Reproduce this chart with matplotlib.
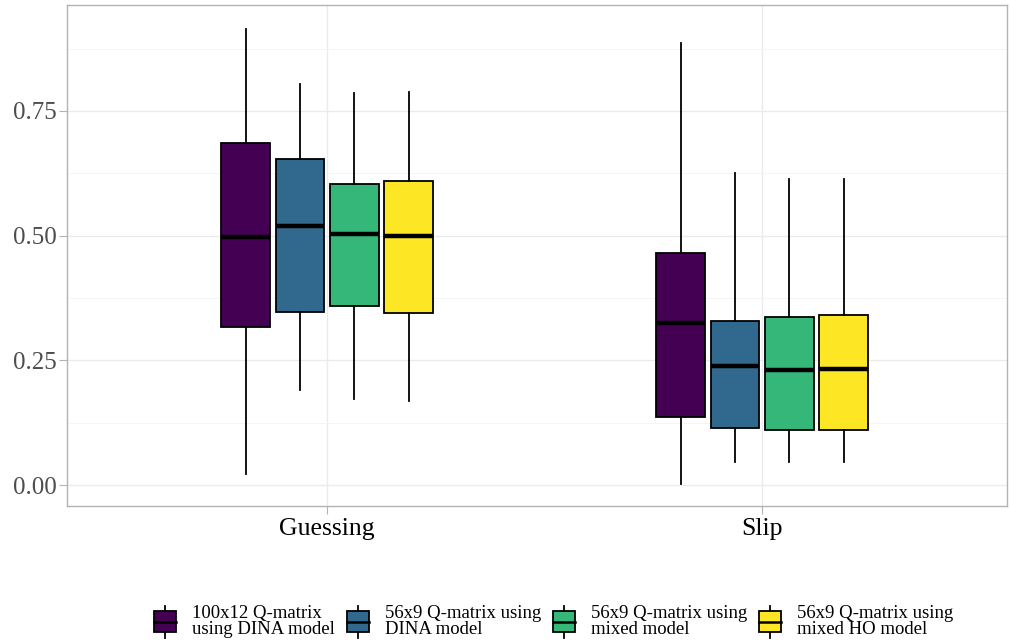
import matplotlib
matplotlib.use("Agg")
import matplotlib.pyplot as plt
from matplotlib.patches import Rectangle
from matplotlib.lines import Line2D
from matplotlib.legend_handler import HandlerBase
from matplotlib.ticker import FixedLocator

plt.rcParams['font.family'] = ['Liberation Serif', 'DejaVu Serif']

categories = ["Guessing", "Slip"]
series = ["100x12 Q-matrix\nusing DINA model", "56x9 Q-matrix using\nDINA model",
          "56x9 Q-matrix using\nmixed model", "56x9 Q-matrix using\nmixed HO model"]
colors = ["#440154", "#31688E", "#35B779", "#FDE725"]

# [whislo, q1, med, q3, whishi] per series, per category
guessing_stats = [
    [0.022, 0.317, 0.497, 0.686, 0.914],
    [0.190, 0.347, 0.519, 0.654, 0.804],
    [0.172, 0.359, 0.503, 0.604, 0.786],
    [0.168, 0.345, 0.499, 0.610, 0.788],
]
slip_stats = [
    [0.002, 0.136, 0.325, 0.465, 0.886],
    [0.046, 0.114, 0.239, 0.329, 0.626],
    [0.046, 0.110, 0.231, 0.337, 0.614],
    [0.046, 0.110, 0.233, 0.341, 0.614],
]
all_stats = [guessing_stats, slip_stats]
yticks = [0.00, 0.25, 0.50, 0.75]
ytick_labels = ["0.00", "0.25", "0.50", "0.75"]

fig = plt.figure(figsize=(10.10, 6.41), dpi=100)
ax = fig.add_axes([67/1010, 1-506/641, (1007-67)/1010, (506-5)/641])

dodge = 0.125
width = 0.112
for ci, cat_stats in enumerate(all_stats):
    for si, s in enumerate(cat_stats):
        pos = ci + 1 + (si - 1.5) * dodge
        st = dict(whislo=s[0], q1=s[1], med=s[2], q3=s[3], whishi=s[4], fliers=[])
        ax.bxp([st], positions=[pos], widths=width, showcaps=False, showfliers=False,
               patch_artist=True,
               boxprops=dict(facecolor=colors[si], edgecolor="black", linewidth=1.3),
               whiskerprops=dict(color="black", linewidth=1.3),
               medianprops=dict(color="black", linewidth=3.2, solid_capstyle="butt"),
               zorder=3)

ax.set_xlim(0.402, 2.563)
ax.set_ylim(-0.042, 0.9625)
ax.set_xticks([1, 2])
ax.set_xticklabels(categories, fontsize=18.5)
ax.set_yticks(yticks)
ax.set_yticklabels(ytick_labels, fontsize=18, color="#4D4D4D")
ax.yaxis.set_minor_locator(FixedLocator([0.125, 0.375, 0.625, 0.875]))
ax.xaxis.set_minor_locator(FixedLocator([]))
ax.grid(True, which="major", color="#EBEBEB", linewidth=1.0, zorder=0)
ax.grid(True, which="minor", axis="y", color="#F3F3F3", linewidth=0.6, zorder=0)
ax.set_axisbelow(True)
for sp in ax.spines.values():
    sp.set_color("#B3B3B3")
    sp.set_linewidth(1.0)
ax.tick_params(axis="both", which="major", color="#B3B3B3", length=6, width=0.8, pad=1.5)
ax.tick_params(axis="x", colors="#B3B3B3", labelcolor="black", pad=2.5)
ax.tick_params(axis="y", which="minor", length=0)


class Key:
    def __init__(self, c):
        self.c = c


class KeyHandler(HandlerBase):
    def create_artists(self, legend, orig_handle, xdescent, ydescent, width, height, fontsize, trans):
        fc = orig_handle.c
        cx = -xdescent + width / 2
        cy = -ydescent + height / 2
        bw = 15.8
        bh = 15.1
        top = cy + 11.5
        bot = cy - 11.5
        wl = Line2D([cx, cx], [bot, top], color="black", linewidth=1.3, transform=trans)
        r = Rectangle((cx - bw / 2, cy - bh / 2), bw, bh, facecolor=fc, edgecolor="black",
                      linewidth=1.3, transform=trans)
        m = Line2D([cx - bw / 2, cx + bw / 2], [cy, cy], color="black",
                   linewidth=1.8, transform=trans)
        return [wl, r, m]


handles = [Key(c) for c in colors]
leg = fig.legend(handles, series, loc="lower center", bbox_to_anchor=(0.547, -0.022),
                 ncol=4, frameon=False, fontsize=13.5,
                 handler_map={Key: KeyHandler()},
                 handlelength=1.4, handleheight=1.35, handletextpad=0.75,
                 columnspacing=0.5, labelspacing=0.2)
for t in leg.get_texts():
    t.set_linespacing(0.95)

fig.savefig("out.png", dpi=100)
